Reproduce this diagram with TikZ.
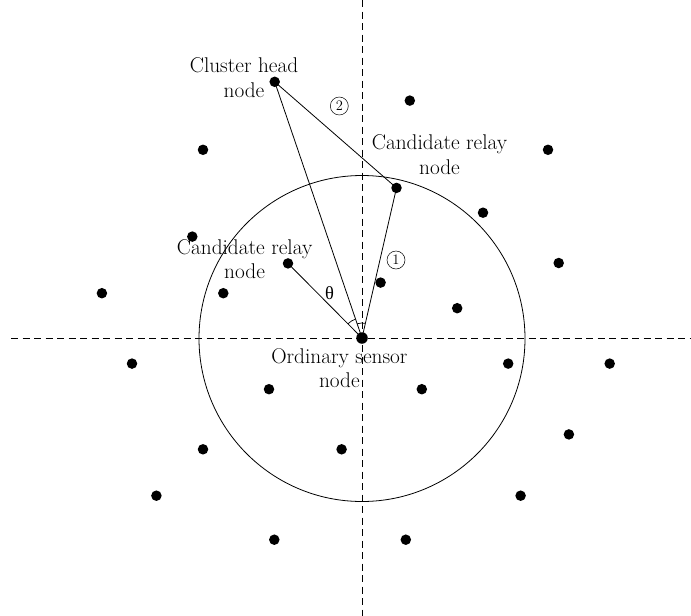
\documentclass[tikz,border=0pt]{standalone}
\usepackage{fontspec}
\usetikzlibrary{calc}
\newfontfamily\grkfont{Liberation Serif}
\begin{document}
\begin{tikzpicture}[x=1pt,y=-1pt,
  dot/.style={circle,fill=black,inner sep=0pt,minimum size=10.5pt},
  lbl/.style={align=center,inner sep=0pt,font=\fontsize{21.3}{24.5}\selectfont},
  axis/.style={line width=0.8pt,dash pattern=on 7pt off 4.5pt},
  link/.style={line width=0.8pt},
  num/.style={circle,draw,line width=0.5pt,inner sep=0pt,minimum size=18pt,font=\fontsize{14.5}{14.5}\selectfont}]
\useasboundingbox (0,0) rectangle (691,616);
% axes
\coordinate (vt) at (362,0);
\coordinate (vb) at (362,616);
\coordinate (hl) at (11,338);
\coordinate (hr) at (691,338);
\draw[axis] (vt) -- (vb);
\draw[axis] (hl) -- (hr);
% range circle
\coordinate (O) at (362,338.5);
\draw[line width=0.8pt] (O) circle[radius=163];
% labels
\node[lbl] (tch) at (244,77.5) {Cluster head\\node};
\node[lbl] (tcr1) at (439.5,154.5) {Candidate relay\\node};
\node[lbl] (tcr2) at (244.6,259) {Candidate relay\\node};
\node[lbl] (tos) at (339.4,368) {Ordinary sensor\\node};
\node[num] (n2) at (339.3,106) {2};
\node[num] (n1) at (396,260) {1};
\node[inner sep=0pt,font=\grkfont\fontsize{18.5}{18.5}\selectfont] (th) at (329.5,293.5) {θ};
% key nodes
\node[dot,minimum size=11.5pt] (os) at (362,338) {};
\node[dot] (ch) at (274.7,81.8) {};
\node[dot] (cr1) at (396.5,187.9) {};
\node[dot] (cr2) at (288,263.4) {};
% links
\draw[link] (os.center) -- (ch.center);
\draw[link] (os.center) -- (cr1.center);
\draw[link] (cr1.center) -- (ch.center);
\draw[link] (os.center) -- (cr2.center);
% angle arcs
\draw[line width=0.7pt] ($(os.center)+(-108.8:20)$) arc[start angle=-108.8,end angle=-134.8,radius=20];
\draw[line width=0.7pt] ($(os.center)+(-77:15)$) arc[start angle=-77,end angle=-108.8,radius=15];
% other sensor nodes
\foreach \p [count=\i] in {(409.8,100.6),(203,149.8),(548,149.8),(483,212.7),(192.3,236.6),(558.7,263),(380.6,282.6),(101.9,293.2),(223.3,293.2),(457.2,308.2),(132,363.6),(508.2,363.6),(609.7,363.6),(269,389.2),(421.8,389.2),(568.9,434.4),(203,449.3),(341.6,449.3),(156.4,495.7),(520.6,495.7),(274.3,539.7),(405.8,539.7)}
  \node[dot] (s\i) at \p {};
\end{tikzpicture}
\end{document}
